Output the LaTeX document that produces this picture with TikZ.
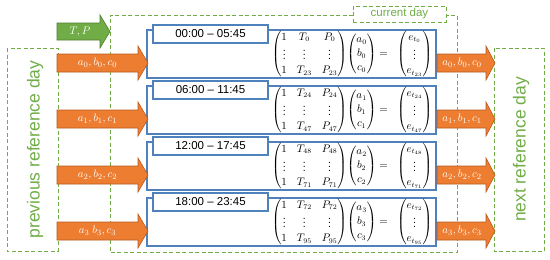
\documentclass[tikz,border=0pt]{standalone}
\usepackage{amsmath}
\usepackage{fontspec}
\setmainfont{Liberation Sans}
\definecolor{dgreen}{HTML}{70AD47}
\definecolor{dgreenD}{HTML}{507E32}
\definecolor{orng}{HTML}{ED7D31}
\definecolor{orngD}{HTML}{B85B1F}
\definecolor{bblue}{HTML}{4F81BD}
\newcommand{\fatarrow}[7]{%
  \path[#1] (#2,#5-#6) -- (#3,#5-#6) -- (#3,#5-#7) -- (#4,#5) -- (#3,#5+#7) -- (#3,#5+#6) -- (#2,#5+#6) -- cycle;}
\tikzset{
  gdash/.style={draw=dgreen, line width=1pt, dash pattern=on 4pt off 2.5pt},
  oarrow/.style={fill=orng, draw=orngD, line width=0.6pt},
  garrow/.style={fill=dgreen, draw=dgreenD, line width=0.6pt},
  arrtext/.style={text=white, font=\fontsize{11}{13}\selectfont, inner sep=0pt},
  bluebox/.style={draw=bblue, line width=1.1pt, fill=white},
  timebox/.style={draw=bblue, line width=1.1pt, fill=white, minimum width=115pt, minimum height=18pt, inner sep=0pt, font=\fontsize{11.5}{13}\selectfont},
  eqn/.style={inner sep=0pt, font=\fontsize{10.5}{14}\selectfont},
  daytext/.style={text=dgreen, rotate=90, font=\fontsize{17.5}{20}\selectfont, inner sep=0pt},
}
\begin{document}
\begin{tikzpicture}[x=1pt,y=-1pt]
\useasboundingbox (0,0) rectangle (550,260);
% dashed frames
\draw[gdash] (7,48) rectangle (58,251);
\draw[gdash] (494,48) rectangle (544,251);
\draw[gdash] (353,15) -- (110,15) -- (110,252) -- (457,252) -- (457,15) -- (446,15);
\node[gdash, minimum width=93pt, minimum height=16pt, inner sep=0pt, text=dgreen, font=\fontsize{11.5}{13}\selectfont] (cur) at (399.5,14) {current day};
\node[daytext] (prev) at (35,149.5) {previous reference day};
\node[daytext] (next) at (521,149.5) {next reference day};
% green arrow
\fatarrow{garrow}{57}{100}{110}{31.5}{8.5}{16.5}
\node[arrtext] (tp) at (80,31.5) {$T, P$};
% blue boxes
\foreach \k/\ta/\tb/\lo/\hi/\ea/\eb in {0/00:00/05:45/0/23/0/23, 1/06:00/11:45/24/47/24/47, 2/12:00/17:45/48/71/48/71, 3/18:00/23:45/72/95/72/95}{
  \pgfmathsetmacro{\yt}{30+56*\k}
  \draw[bluebox] (147,\yt) rectangle (436,\yt+48);
  \node[timebox] (time\k) at (210.5,\yt+4) {\ta\ -- \tb};
  \node[eqn] (eq\k) at (352,\yt+24) {$\begin{pmatrix}1 & T_{\lo} & P_{\lo}\\ \vdots & \vdots & \vdots\\ 1 & T_{\hi} & P_{\hi}\end{pmatrix}\!\begin{pmatrix}a_{\k}\\ b_{\k}\\ c_{\k}\end{pmatrix} =\;\; \begin{pmatrix}e_{t_{\ea}}\\ \vdots\\ e_{t_{\eb}}\end{pmatrix}$};
}
% orange arrows
\foreach \k in {0,1,2,3}{
  \pgfmathsetmacro{\yc}{63+56*\k}
  \fatarrow{oarrow}{57}{138}{148}{\yc}{9}{17}
  \fatarrow{oarrow}{437}{486}{495}{\yc}{9}{17}
}
\node[arrtext] (l0) at (97.5,63) {$a_0, b_0, c_0$};
\node[arrtext] (l1) at (97.5,119) {$a_1, b_1, c_1$};
\node[arrtext] (l2) at (97.5,175) {$a_2, b_2, c_2$};
\node[arrtext] (l3) at (97.5,231) {$a_3\; b_3, c_3$};
\node[arrtext] (r0) at (462,63) {$a_0, b_0, c_0$};
\node[arrtext] (r1) at (462,119) {$a_1, b_1, c_1$};
\node[arrtext] (r2) at (462,175) {$a_2, b_2, c_2$};
\node[arrtext] (r3) at (462,231) {$a_3, b_3, c_3$};
\end{tikzpicture}
\end{document}
